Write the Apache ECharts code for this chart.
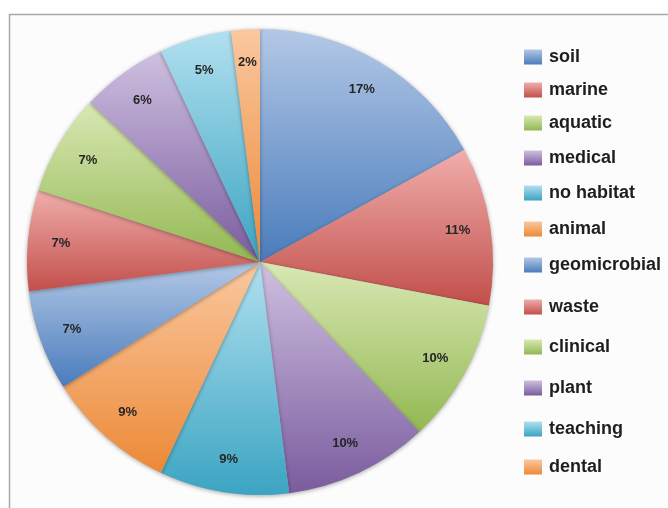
<!DOCTYPE html>
<html>
<head>
<meta charset="utf-8">
<style>
  html, body { margin: 0; padding: 0; background: #ffffff; }
  #chart { width: 668px; height: 508px; }
</style>
<script src="https://cdn.jsdelivr.net/npm/echarts@6/dist/echarts.min.js"></script>
</head>
<body>
<div id="chart"></div>
<script>
// Habitat categories and their share of the total (percent)
const categories = ['soil', 'marine', 'aquatic', 'medical', 'no habitat', 'animal',
                    'geomicrobial', 'waste', 'clinical', 'plant', 'teaching', 'dental'];
const shares = [17, 11, 10, 10, 9, 9, 7, 7, 7, 6, 5, 2];

// Vertical centre of each legend row
const legendRowY = [57, 90, 123, 158, 193, 229, 265, 307, 347, 388, 429, 467];

// Office-style palette: [light top, base bottom]
const palette = [
  ['#b3c8e6', '#4a7cbc'],
  ['#f0aeac', '#c24f4b'],
  ['#d9e8b4', '#93b852'],
  ['#cfc0e0', '#7a5c9e'],
  ['#b1e0ef', '#3ba4c2'],
  ['#fac8a0', '#ec8936']
];

function fillFor(i) {
  const c = palette[i % palette.length];
  return new echarts.graphic.LinearGradient(0, 0, 0, 1, [
    { offset: 0, color: c[0] },
    { offset: 1, color: c[1] }
  ]);
}

const pieData = categories.map((name, i) => ({
  name: name,
  value: shares[i],
  itemStyle: { color: fillFor(i) }
}));

const labelData = categories.map((name, i) => ({ name: name, value: shares[i] }));

// One legend block per row so each entry sits on its own line
const legends = categories.map((name, i) => ({
  orient: 'vertical',
  left: 524,
  top: legendRowY[i] - 9,
  padding: 0,
  icon: 'rect',
  itemWidth: 18,
  itemHeight: 15,
  itemGap: 0,
  data: [name],
  selectedMode: false,
  textStyle: {
    fontFamily: 'Liberation Sans, Arial, sans-serif',
    fontSize: 18,
    fontWeight: 'bold',
    color: '#1e1e1e',
    lineHeight: 18,
    padding: [0, 0, 0, 2]
  }
}));

const chart = echarts.init(document.getElementById('chart'), null, { renderer: 'canvas' });

chart.setOption({
  animation: false,
  backgroundColor: '#ffffff',
  graphic: [{
    type: 'rect',
    z: -10,
    shape: { x: 9.5, y: 14.5, width: 700, height: 600 },
    style: { fill: '#fcfcfd', stroke: '#a9a9ac', lineWidth: 1.5 }
  }],
  legend: legends,
  series: [
    {
      name: 'habitat',
      type: 'pie',
      center: [260, 262],
      radius: [0, 233],
      startAngle: 90,
      clockwise: true,
      silent: true,
      label: { show: false },
      labelLine: { show: false },
      itemStyle: {
        borderWidth: 0,
        shadowBlur: 4,
        shadowColor: 'rgba(0,0,0,0.35)',
        shadowOffsetY: 1
      },
      data: pieData
    },
    {
      // transparent ring that only carries the percentage labels
      name: 'labels',
      type: 'pie',
      center: [260, 262],
      radius: [161, 233],
      startAngle: 90,
      clockwise: true,
      silent: true,
      legendHoverLink: false,
      itemStyle: { color: 'rgba(0,0,0,0)' },
      label: {
        show: true,
        position: 'inside',
        formatter: '{c}%',
        fontFamily: 'Liberation Sans, Arial, sans-serif',
        fontWeight: 'bold',
        fontSize: 13,
        color: '#262626'
      },
      labelLine: { show: false },
      data: labelData
    }
  ]
});
</script>
</body>
</html>
